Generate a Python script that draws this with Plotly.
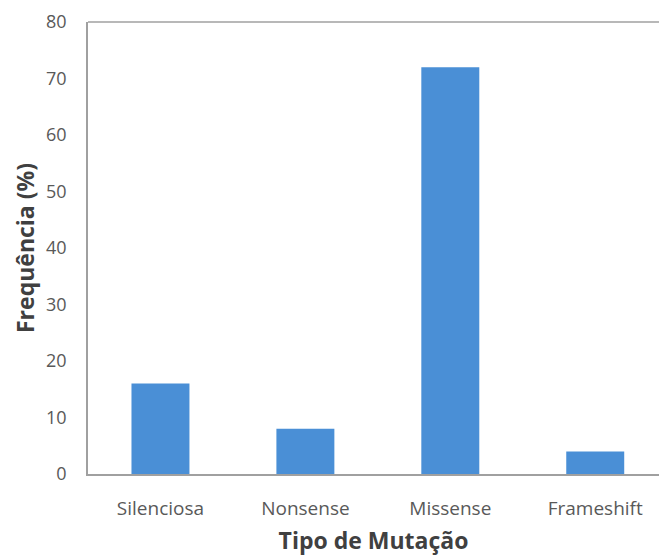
import plotly.graph_objects as go

categories = ["Silenciosa", "Nonsense", "Missense", "Frameshift"]
frequencia = [16, 8, 72, 4]
y_ticks = [0, 10, 20, 30, 40, 50, 60, 70, 80]

fig = go.Figure()
fig.add_trace(go.Bar(
    x=categories, y=frequencia,
    marker=dict(color="#4a8fd6", line=dict(width=0)),
))

fig.update_layout(
    width=659, height=556,
    margin=dict(l=88, r=0, t=22, b=82),
    paper_bgcolor="white", plot_bgcolor="white",
    bargap=0.6,
    showlegend=False,
    font=dict(family="Open Sans", color="#595959", size=19),
    xaxis=dict(
        range=[-0.5, 3.44],
        showline=True, linecolor="#a0a0a0", linewidth=1.5, mirror=False,
        showgrid=False, ticks="", ticklabelstandoff=16,
        tickfont=dict(size=19, color="#595959"),
        title=dict(text="<b>Tipo de Mutação</b>", font=dict(size=23, color="#404040"), standoff=14),
    ),
    yaxis=dict(
        range=[0, 80], tickvals=y_ticks,
        showline=True, linecolor="#a0a0a0", linewidth=1.5, mirror=False,
        showgrid=False, ticks="", ticklabelstandoff=16,
        tickfont=dict(size=18, color="#595959"),
        title=dict(text="<b>Frequência (%)</b>", font=dict(size=23, color="#404040"), standoff=5),
    ),
    shapes=[dict(type="line", xref="paper", yref="paper", x0=0, x1=1, y0=1, y1=1,
                 line=dict(color="#a0a0a0", width=1.5))],
)

fig.write_html("out.html")
